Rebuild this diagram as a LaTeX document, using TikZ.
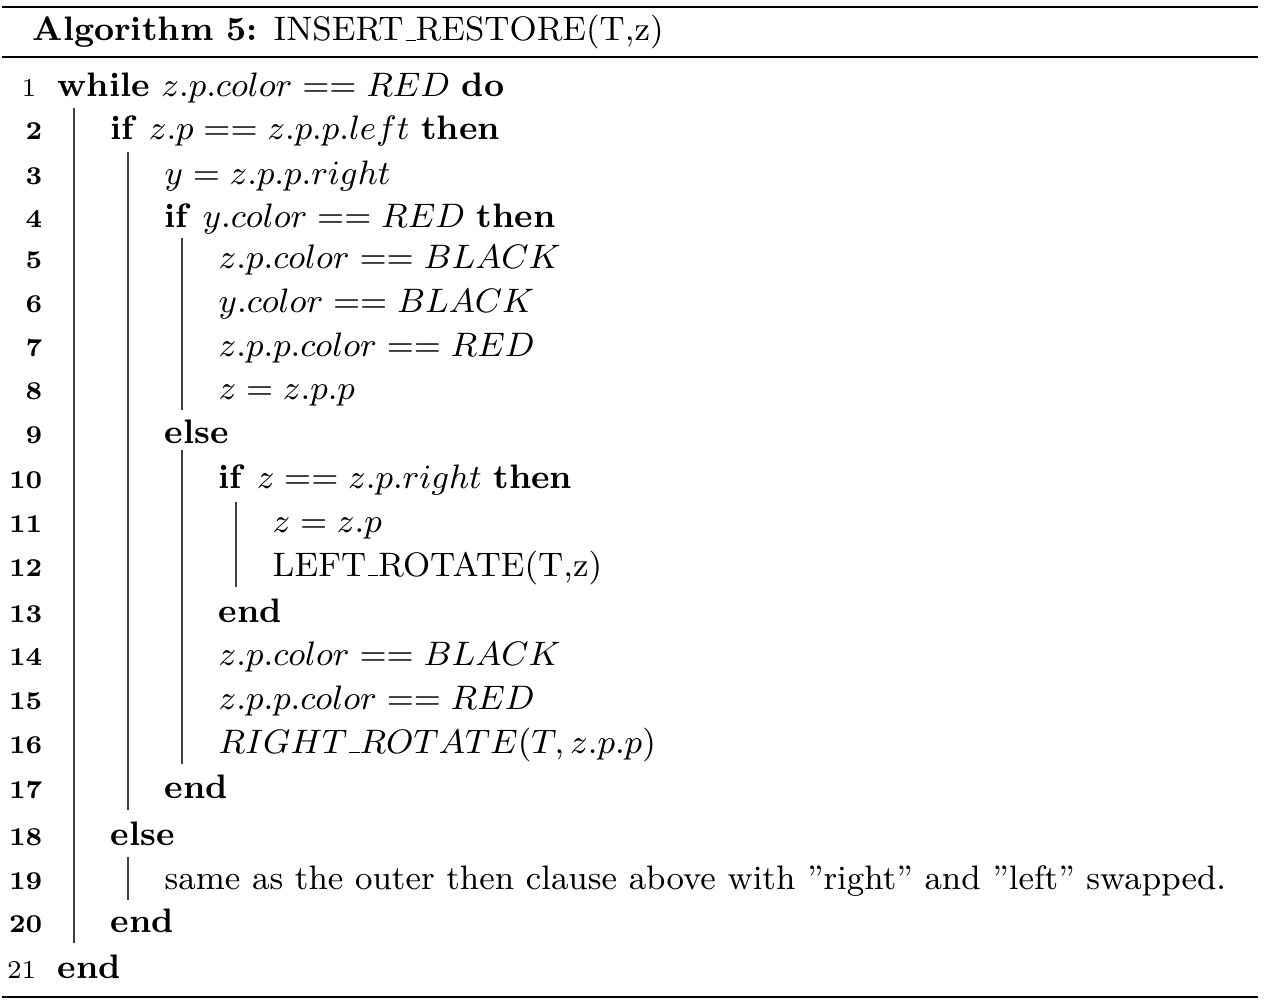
\RequirePackage{fix-cm}
\documentclass[tikz,border=0pt]{standalone}
\usepackage{fontspec}
\newcommand\usc{\leavevmode\kern.06em\vbox{\hrule width.3em}}
\newcommand\codesize{\fontsize{9.25}{11}\selectfont}
\begin{document}
\begin{tikzpicture}[x=0.2725pt,y=-0.2725pt,
  ln/.style={anchor=base east,inner sep=0pt,font=\scriptsize\bfseries},
  lnr/.style={anchor=base east,inner sep=0pt,font=\scriptsize},
  code/.style={anchor=base west,inner sep=0pt,font=\codesize},
  vbar/.style={line width=0.4pt,black!75},
  hrule/.style={line width=0.8pt}]
\useasboundingbox (0,0) rectangle (1270,1008);
% rules
\coordinate (r1a) at (2,7);   \coordinate (r1b) at (1258,7);
\coordinate (r2a) at (2,57);  \coordinate (r2b) at (1258,57);
\coordinate (r3a) at (2,997); \coordinate (r3b) at (1258,997);
\draw[hrule] (r1a) -- (r1b);
\draw[hrule] (r2a) -- (r2b);
\draw[hrule] (r3a) -- (r3b);
% title
\node[code] (title) at (32,41) {\textbf{Algorithm 5:} INSERT\usc RESTORE(T,z)};
% line numbers
\node[lnr] (n1)  at (37,97)  {1};
\node[ln]  (n2)  at (43,140) {2};
\node[ln]  (n3)  at (43,184) {3};
\node[ln]  (n4)  at (43,227) {4};
\node[ln]  (n5)  at (43,269) {5};
\node[ln]  (n6)  at (43,312) {6};
\node[ln]  (n7)  at (43,356) {7};
\node[ln]  (n8)  at (43,399) {8};
\node[ln]  (n9)  at (43,443) {9};
\node[ln]  (n10) at (43,488) {10};
\node[ln]  (n11) at (43,532) {11};
\node[ln]  (n12) at (43,576) {12};
\node[ln]  (n13) at (43,622) {13};
\node[ln]  (n14) at (43,665) {14};
\node[ln]  (n15) at (43,709) {15};
\node[ln]  (n16) at (43,753) {16};
\node[ln]  (n17) at (43,798) {17};
\node[ln]  (n18) at (43,845) {18};
\node[ln]  (n19) at (43,889) {19};
\node[ln]  (n20) at (43,932) {20};
\node[lnr] (n21) at (37,978) {21};
% code lines
\node[code] (c1)  at (57,97)  {\textbf{while} $z.p.color == RED$ \textbf{do}};
\node[code] (c2)  at (110,140) {\textbf{if} $z.p == z.p.p.left$ \textbf{then}};
\node[code] (c3)  at (164,184) {$y = z.p.p.right$};
\node[code] (c4)  at (164,227) {\textbf{if} $y.color == RED$ \textbf{then}};
\node[code] (c5)  at (218,269) {$z.p.color == BLACK$};
\node[code] (c6)  at (218,312) {$y.color == BLACK$};
\node[code] (c7)  at (218,356) {$z.p.p.color == RED$};
\node[code] (c8)  at (218,399) {$z = z.p.p$};
\node[code] (c9)  at (164,443) {\textbf{else}};
\node[code] (c10) at (218,488) {\textbf{if} $z == z.p.right$ \textbf{then}};
\node[code] (c11) at (272,532) {$z = z.p$};
\node[code] (c12) at (272,576) {LEFT\usc ROTATE(T,z)};
\node[code] (c13) at (218,622) {\textbf{end}};
\node[code] (c14) at (218,665) {$z.p.color == BLACK$};
\node[code] (c15) at (218,709) {$z.p.p.color == RED$};
\node[code] (c16) at (218,753) {$RIGHT\mbox{\usc}ROTATE(T, z.p.p)$};
\node[code] (c17) at (164,798) {\textbf{end}};
\node[code] (c18) at (110,845) {\textbf{else}};
\node[code] (c19) at (164,889) {same as the outer then clause above with ”right” and ”left” swapped.};
\node[code] (c20) at (110,932) {\textbf{end}};
\node[code] (c21) at (57,978) {\textbf{end}};
% block bars
\coordinate (b1a) at (74,108);  \coordinate (b1b) at (74,943);
\coordinate (b2a) at (128,152); \coordinate (b2b) at (128,810);
\coordinate (b3a) at (182,238); \coordinate (b3b) at (182,410);
\coordinate (b4a) at (182,450); \coordinate (b4b) at (182,764);
\coordinate (b5a) at (236,502); \coordinate (b5b) at (236,587);
\coordinate (b6a) at (128,857); \coordinate (b6b) at (128,900);
\draw[vbar] (b1a) -- (b1b);
\draw[vbar] (b2a) -- (b2b);
\draw[vbar] (b3a) -- (b3b);
\draw[vbar] (b4a) -- (b4b);
\draw[vbar] (b5a) -- (b5b);
\draw[vbar] (b6a) -- (b6b);
\end{tikzpicture}
\end{document}
